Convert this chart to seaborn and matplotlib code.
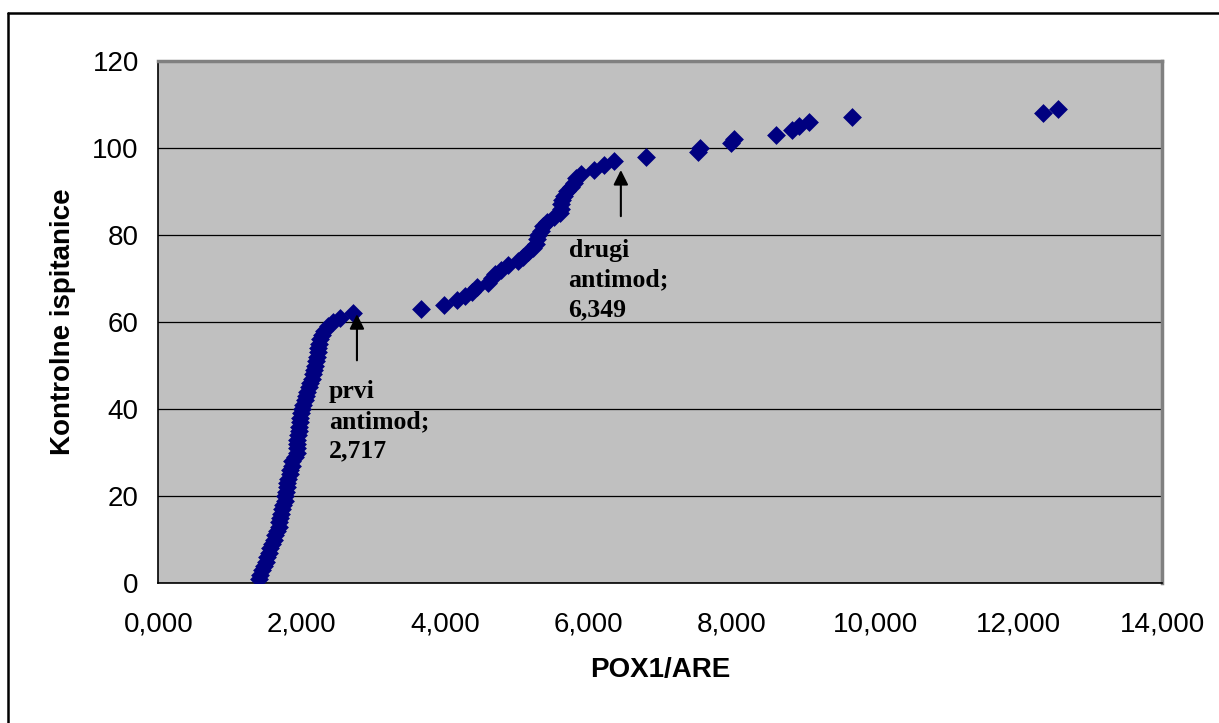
import matplotlib
matplotlib.use("Agg")
import matplotlib.pyplot as plt
import seaborn as sns
import pandas as pd
from matplotlib.lines import Line2D
from matplotlib.ticker import FuncFormatter

# POX1/ARE values (sorted), one per control subject
pox1_are = [
    1.40, 1.42, 1.45, 1.48, 1.50, 1.52, 1.54, 1.56, 1.59, 1.61,
    1.63, 1.66, 1.68, 1.69, 1.70, 1.71, 1.72, 1.74, 1.76, 1.77,
    1.78, 1.79, 1.80, 1.81, 1.83, 1.84, 1.86, 1.87, 1.90, 1.93,
    1.93, 1.94, 1.94, 1.95, 1.96, 1.96, 1.97, 1.98, 1.99, 2.00,
    2.02, 2.05, 2.06, 2.08, 2.10, 2.12, 2.14, 2.16, 2.17, 2.19,
    2.20, 2.21, 2.22, 2.23, 2.24, 2.25, 2.28, 2.31, 2.36, 2.43,
    2.54, 2.717,
    3.67, 3.98, 4.16, 4.28, 4.38, 4.45, 4.60, 4.65, 4.69, 4.78,
    4.88, 5.02, 5.08, 5.15, 5.22, 5.26, 5.28, 5.30, 5.33, 5.36,
    5.42, 5.52, 5.60, 5.61, 5.62, 5.63, 5.66, 5.70, 5.75, 5.79,
    5.82, 5.90, 6.07, 6.22, 6.349,
    6.80, 7.52, 7.56, 7.99, 8.03, 8.62, 8.83, 8.93, 9.08, 9.68,
    12.34, 12.55,
]
# subject rank (cumulative count)
subjects = list(range(1, len(pox1_are) + 1))

x_ticks = [0, 2, 4, 6, 8, 10, 12, 14]
y_ticks = [0, 20, 40, 60, 80, 100, 120]

antimod_labels = ["prvi\nantimod;\n2,717", "drugi\nantimod;\n6,349"]

df = pd.DataFrame({"POX1/ARE": pox1_are, "rank": subjects})

sns.set_theme(style="white")
plt.rcParams["font.family"] = ["Liberation Sans", "DejaVu Sans"]
plt.rcParams["text.color"] = "black"
plt.rcParams["axes.labelcolor"] = "black"

fig = plt.figure(figsize=(12.19, 7.23), dpi=100)
ax = fig.add_axes([158.3 / 1219, 1 - 583.3 / 723, (1162.3 - 158.3) / 1219, (583.3 - 60.7) / 723])
ax.set_facecolor("#C0C0C0")

sns.scatterplot(data=df, x="POX1/ARE", y="rank", marker="D", s=92,
                color="#000080", edgecolor="#000080", linewidth=0, ax=ax, zorder=3)

ax.set_xlim(0, 14)
ax.set_ylim(0, 120)
ax.set_xticks(x_ticks)
ax.set_yticks(y_ticks)
ax.xaxis.set_major_formatter(FuncFormatter(lambda v, p: f"{v:.3f}".replace(".", ",")))
ax.yaxis.set_major_formatter(FuncFormatter(lambda v, p: f"{int(v)}"))
ax.tick_params(axis="both", labelsize=20, colors="black", direction="out",
               length=8, width=1.2, pad=6)
ax.tick_params(axis="x", pad=12)
ax.yaxis.grid(True, color="black", linewidth=0.9)
ax.xaxis.grid(False)
ax.set_axisbelow(True)

for side in ["top", "right"]:
    ax.spines[side].set_color("#808080")
    ax.spines[side].set_linewidth(2.5)
for side in ["left", "bottom"]:
    ax.spines[side].set_color("black")
    ax.spines[side].set_linewidth(1.2)

ax.set_xlabel("POX1/ARE", fontsize=20, fontweight="bold", labelpad=14, color="black")
ax.set_ylabel("Kontrolne ispitanice", fontsize=20, fontweight="bold", labelpad=12, color="black")

# annotations with arrows (positions in data units)
arrow_x = [2.77, 6.45]
arrow_tip = [61.8, 94.9]
arrow_tail = [51.2, 84.3]
text_x = [2.38, 5.72]
text_top = [46.6, 79.0]
for lab, ax_, tip, tail, tx, ty in zip(antimod_labels, arrow_x, arrow_tip, arrow_tail, text_x, text_top):
    ax.annotate("", xy=(ax_, tip), xytext=(ax_, tail),
                arrowprops=dict(arrowstyle="-|>", color="black", lw=1.5,
                                mutation_scale=22, shrinkA=0, shrinkB=0),
                zorder=4)
    ax.text(tx, ty, lab, fontsize=18.5, fontweight="bold", color="black",
            family=["Liberation Serif", "DejaVu Serif"], va="top", ha="left",
            linespacing=1.36, zorder=4)

# outer frame (top and left edges visible)
fig.add_artist(Line2D([8 / 1219, 8 / 1219], [0, 1 - 13 / 723], transform=fig.transFigure,
                      color="black", linewidth=1.8))
fig.add_artist(Line2D([8 / 1219, 1], [1 - 13 / 723, 1 - 13 / 723], transform=fig.transFigure,
                      color="black", linewidth=1.8))

fig.savefig("out.png", dpi=100)
